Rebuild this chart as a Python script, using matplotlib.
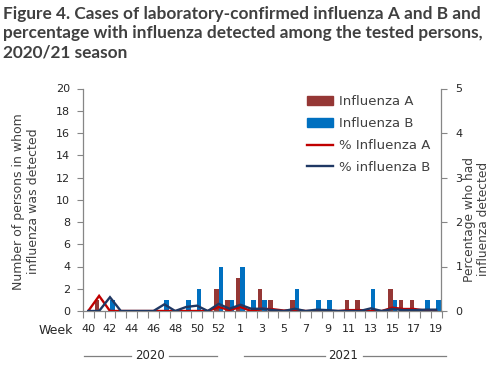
import matplotlib
matplotlib.use("Agg")
import matplotlib.pyplot as plt
from matplotlib.lines import Line2D
from matplotlib.patches import Patch
import numpy as np

weeks = ['40', '41', '42', '43', '44', '45', '46', '47', '48', '49', '50', '51', '52', '53',
         '1', '2', '3', '4', '5', '6', '7', '8', '9', '10', '11', '12', '13', '14', '15',
         '16', '17', '18', '19']
flu_a = [0, 1, 0, 0, 0, 0, 0, 0, 0, 0, 0, 0, 2, 1,
         3, 0, 2, 1, 0, 1, 0, 0, 0, 0, 1, 1, 0, 0, 2, 1, 1, 0, 0]
flu_b = [0, 0, 1, 0, 0, 0, 0, 1, 0, 1, 2, 0, 4, 1,
         4, 1, 1, 0, 0, 2, 0, 1, 1, 0, 0, 0, 2, 0, 1, 0, 0, 1, 1]
pct_a = [0, 0.34, 0, 0, 0, 0, 0, 0, 0, 0, 0, 0, 0.09, 0.02,
         0.09, 0, 0.05, 0.04, 0.01, 0.02, 0, 0, 0, 0, 0.02, 0.02, 0, 0, 0.075, 0.045, 0.045, 0.01, 0]
pct_b = [0, 0, 0.31, 0, 0, 0, 0, 0.15, 0, 0.09, 0.12, 0, 0.16, 0.05,
         0.14, 0.05, 0.05, 0.02, 0, 0.05, 0, 0.03, 0.02, 0, 0, 0, 0.06, 0, 0.045, 0.02, 0.02, 0.03, 0.03]
left_ticks = list(range(0, 21, 2))
right_ticks = [0, 1, 2, 3, 4, 5]
years = ['2020', '2021']

title = ("Figure 4. Cases of laboratory-confirmed influenza A and B and\n"
         "percentage with influenza detected among the tested persons,\n"
         "2020/21 season")

RED_BAR = '#953735'
BLUE_BAR = '#0070C0'
RED_LINE = '#C00000'
NAVY_LINE = '#1F3864'
GRAY = '#868686'
TXT = '#404040'

W, H = 491, 374
fig = plt.figure(figsize=(W / 100, H / 100), dpi=100)
plt.rcParams['font.family'] = ['DejaVu Sans']

x0, x1, y0, y1 = 82.8, 441.5, 88.5, 311.0
ax = fig.add_axes([x0 / W, 1 - y1 / H, (x1 - x0) / W, (y1 - y0) / H])
ax2 = ax.twinx()

x = np.arange(len(weeks))
bw = 0.42
ax.bar(x - bw / 2, flu_a, width=bw, color=RED_BAR, zorder=2)
ax.bar(x + bw / 2, flu_b, width=bw, color=BLUE_BAR, zorder=2)
ax2.plot(x, pct_a, color=RED_LINE, lw=1.7, solid_joinstyle='miter')
ax2.plot(x, pct_b, color=NAVY_LINE, lw=1.7, solid_joinstyle='miter')

ax.set_xlim(-0.5, len(weeks) - 0.5)
ax.set_ylim(0, 20)
ax2.set_ylim(0, 5)
ax.set_yticks(left_ticks)
ax2.set_yticks(right_ticks)

ax.set_xticks(x[::2])
ax.set_xticklabels(weeks[::2])
ax.set_xticks(np.arange(-0.5, len(weeks), 1), minor=True)
ax.tick_params(axis='x', which='major', length=0, pad=9, labelsize=8, labelcolor='#262626')
ax.tick_params(axis='x', which='minor', length=5, color=GRAY, width=0.8)
ax.tick_params(axis='y', length=4, color=GRAY, width=0.8, labelsize=8, labelcolor='#262626', pad=5)
ax2.tick_params(axis='y', length=4, color=GRAY, width=0.8, labelsize=8, labelcolor='#262626', pad=6)

for a in (ax, ax2):
    a.spines['top'].set_visible(False)
    for s in ('left', 'right', 'bottom'):
        a.spines[s].set_color(GRAY)
        a.spines[s].set_linewidth(0.9)
ax.spines['right'].set_visible(False)
ax2.spines['left'].set_visible(False)
ax2.spines['bottom'].set_visible(False)

# Title
fig.text(3 / W, 1 - 5.5 / H, title, ha='left', va='top', fontsize=12.4,
         fontweight='bold', color=TXT, family=['Lato', 'DejaVu Sans'], linespacing=1.26)

# Axis labels
fig.text(25.8 / W, 1 - 201.5 / H, "Number of persons in whom\ninfluenza was detected",
         rotation=90, ha='center', va='center', fontsize=9, color=TXT,
         multialignment='center', linespacing=1.2)
fig.text(476.5 / W, 1 - 219 / H, "Percentage who had\ninfluenza detected",
         rotation=90, ha='center', va='center', fontsize=8.8, color=TXT,
         multialignment='center', linespacing=1.1)

fig.text(38.3 / W, 1 - 333.5 / H, "Week", ha='left', va='baseline', fontsize=9, color='#262626')

# Year labels with separator lines
fig.text(150 / W, 1 - 355.7 / H, years[0], ha='center', va='center', fontsize=8.5, color='#262626')
fig.text(343.3 / W, 1 - 355.7 / H, years[1], ha='center', va='center', fontsize=8.5, color='#262626')
for xa, xb in [(84.3, 130.7), (169.3, 216.7), (244, 325), (363.3, 446)]:
    fig.add_artist(Line2D([xa / W, xb / W], [1 - 356 / H, 1 - 356 / H],
                          transform=fig.transFigure, color='#7f7f7f', lw=0.9))

handles = [Patch(color=RED_BAR, label='Influenza A'),
           Patch(color=BLUE_BAR, label='Influenza B'),
           Line2D([], [], color=RED_LINE, lw=1.7, label='% Influenza A'),
           Line2D([], [], color=NAVY_LINE, lw=1.7, label='% influenza B')]
leg = ax2.legend(handles=handles, loc='upper left',
                 bbox_to_anchor=(306.7 / W, 1 - 95.0 / H), bbox_transform=fig.transFigure,
                 frameon=False, fontsize=9.5, handlelength=2.0, handleheight=0.6,
                 handletextpad=0.45, labelspacing=0.68, borderpad=0, borderaxespad=0)
for t in leg.get_texts():
    t.set_color(TXT)

fig.savefig('out.png', dpi=100)
